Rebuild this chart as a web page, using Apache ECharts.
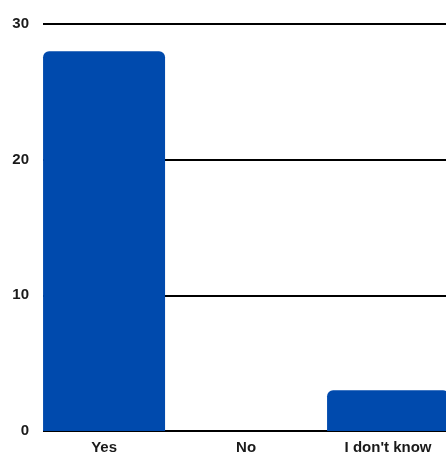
<!DOCTYPE html>
<html>
<head>
<meta charset="utf-8">
<script src="https://cdn.jsdelivr.net/npm/echarts@6/dist/echarts.min.js"></script>
<style>
  html, body { margin: 0; padding: 0; background: #fff; }
  #chart { width: 446px; height: 455px; }
</style>
</head>
<body>
<div id="chart"></div>
<script>
// Survey answers and counts
const categories = ['Yes', 'No', "I don't know"];
const counts = [28, 0, 3];
const yTicks = [0, 10, 20, 30];

const chart = echarts.init(document.getElementById('chart'));

// Bars sit on a numeric x axis so each answer's position can be set by index
const barData = counts.map((v, i) => [i, v]);

const labelFont = {
  fontFamily: 'Liberation Sans, Arial, sans-serif',
  fontWeight: 'bold',
  fontSize: 15,
  color: '#1a1a1a'
};

chart.setOption({
  animation: false,
  grid: { left: 43, right: 0, top: 24, bottom: 24, containLabel: false },
  xAxis: {
    type: 'value',
    min: -0.43,
    max: 2.408,
    axisLine: { show: false },
    axisTick: { show: false },
    splitLine: { show: false },
    axisLabel: Object.assign({
      customValues: categories.map((c, i) => i),
      formatter: v => categories[Math.round(v)],
      margin: 9
    }, labelFont)
  },
  yAxis: {
    type: 'value',
    min: yTicks[0],
    max: yTicks[yTicks.length - 1],
    interval: 10,
    axisLine: { show: false },
    axisTick: { show: false },
    splitLine: { show: true, lineStyle: { color: '#000', width: 2 } },
    axisLabel: Object.assign({ margin: 14 }, labelFont)
  },
  series: [{
    type: 'bar',
    data: barData,
    barWidth: 122,
    itemStyle: { color: '#004AAD', borderRadius: [6, 6, 0, 0] }
  }]
});
</script>
</body>
</html>
